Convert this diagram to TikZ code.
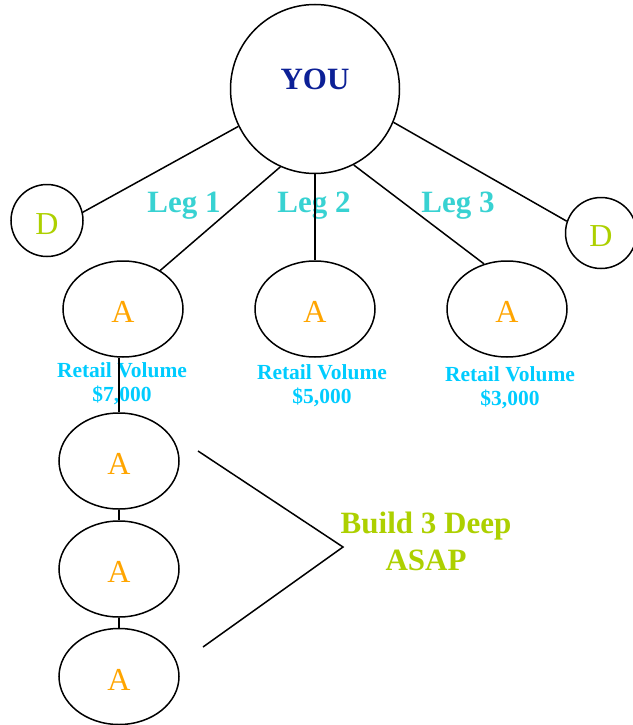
\documentclass[tikz,border=0pt]{standalone}
\usepackage{fontspec}
\setmainfont{Liberation Serif}
\usetikzlibrary{shapes.geometric}
\definecolor{youblue}{RGB}{12,32,150}
\definecolor{legcyan}{RGB}{56,210,210}
\definecolor{volcyan}{RGB}{0,204,255}
\definecolor{aorange}{RGB}{255,165,0}
\definecolor{dgreen}{RGB}{173,208,0}
\begin{document}
\begin{tikzpicture}[x=1pt,y=-1pt,
  link/.style={draw=black,line width=1.5pt},
  member/.style={ellipse,link,minimum width=120pt,minimum height=96pt,inner sep=0pt,
    text height=27pt,text depth=0pt,text=aorange,font=\fontsize{32}{32}\selectfont},
  dist/.style={circle,link,minimum size=72pt,inner sep=0pt,
    text height=27pt,text depth=0pt,text=dgreen,font=\fontsize{32}{32}\selectfont},
  leg/.style={anchor=base,text=legcyan,font=\bfseries\fontsize{31}{31}\selectfont},
  volume/.style={align=center,inner sep=0pt,text=volcyan,font=\bfseries\fontsize{21.5}{24}\selectfont}]
\useasboundingbox (0,0) rectangle (632,725);
% top of the tree
\node (you) [circle,link,minimum size=169pt,inner sep=0pt,
  label={[yshift=10pt,text=youblue,font=\bfseries\fontsize{31}{31}\selectfont]center:YOU}] at (315,89) {};
\node (dl) [dist] at (47,220.5) {D};
\node (dr) [dist,minimum size=71pt] at (601,233) {D};
%
\node (a1) [member] at (123,309) {A};
\node (a2) [member] at (315,309) {A};
\node (a3) [member] at (507,309) {A};
\node (b1) [member] at (119,461) {A};
\node (b2) [member] at (119,569) {A};
\node (b3) [member] at (119,676.5) {A};
%
\node (leg1) [leg] at (184,212.5) {Leg 1};
\node (leg2) [leg] at (314,212.5) {Leg 2};
\node (leg3) [leg] at (458,212.5) {Leg 3};
%
\node (vol1) [volume] at (122,384) {Retail Volume\\\$7,000};
\node (vol2) [volume] at (322,386) {Retail Volume\\\$5,000};
\node (vol3) [volume] at (510,388) {Retail Volume\\\$3,000};
%
\node (deep) [align=center,text=dgreen,font=\bfseries\fontsize{31}{37}\selectfont] at (426,541) {Build 3 Deep\\ASAP};
\coordinate (ctop) at (198,451);
\coordinate (ctip) at (343,547);
\coordinate (cbot) at (203,647);
%
\path[link] (you.206) edge (dl.13);
\path[link] (you.246) edge (a1.46);
\path[link] (you.south) edge (a2.north);
\path[link] (you.297) edge (a3.117);
\path[link] (you.337) edge (dr.161);
\path[link] (b1.north |- a1.south) edge (b1.north);
\path[link] (b1) edge (b2);
\path[link] (b2) edge (b3);
\draw[link] (ctop) -- (ctip) -- (cbot);
\end{tikzpicture}
\end{document}
